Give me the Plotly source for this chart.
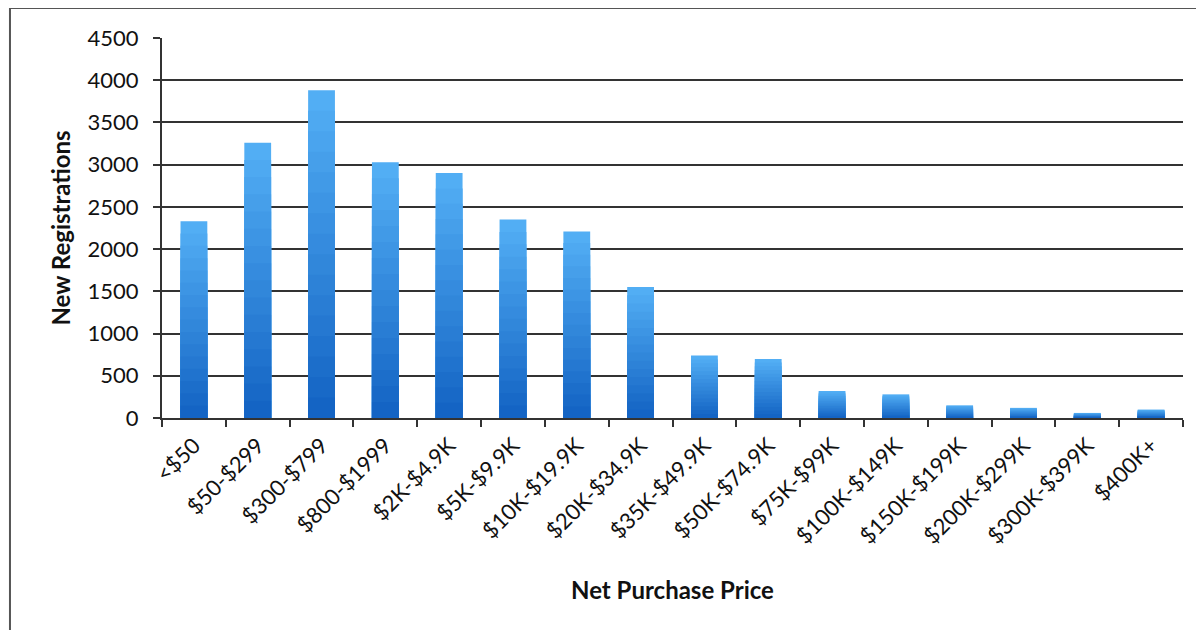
import plotly.graph_objects as go

categories = ["<$50", "$50-$299", "$300-$799", "$800-$1999", "$2K-$4.9K", "$5K-$9.9K",
              "$10K-$19.9K", "$20K-$34.9K", "$35K-$49.9K", "$50K-$74.9K", "$75K-$99K",
              "$100K-$149K", "$150K-$199K", "$200K-$299K", "$300K-$399K", "$400K+"]
registrations = [2330, 3260, 3880, 3030, 2900, 2350, 2210, 1550, 740, 700, 320, 280, 150, 120, 60, 100]
y_ticks = [0, 500, 1000, 1500, 2000, 2500, 3000, 3500, 4000, 4500]

top_rgb = (82, 174, 244)
bot_rgb = (20, 100, 196)
N = 16

fig = go.Figure()
for i in range(N):
    frac = (N - i) / N
    t = i / (N - 1)
    c = tuple(int(round(top_rgb[k] + (bot_rgb[k] - top_rgb[k]) * t)) for k in range(3))
    fig.add_trace(go.Bar(
        x=categories,
        y=[v * frac for v in registrations],
        marker=dict(color="rgb(%d,%d,%d)" % c, line=dict(width=0)),
        showlegend=False,
        hoverinfo="skip" if i else "x+y",
    ))

font_family = "Lato, 'Open Sans', sans-serif"
fig.update_layout(
    width=1204, height=630,
    barmode="overlay",
    bargap=0.58,
    paper_bgcolor="white",
    plot_bgcolor="white",
    margin=dict(l=154, r=29, t=30, b=220, autoexpand=False),
    font=dict(family=font_family, color="#111"),
    xaxis=dict(
        type="category",
        automargin=False,
        tickangle=-45,
        tickfont=dict(size=22),
        ticklabelstandoff=4,
        tickson="boundaries",
        ticks="outside", ticklen=7, tickwidth=2, tickcolor="#333",
        showline=True, linecolor="#333", linewidth=2,
        showgrid=False,
        title=dict(text="<b>Net Purchase Price</b>", font=dict(size=24), standoff=34),
    ),
    yaxis=dict(
        range=[0, 4500],
        automargin=False,
        tickvals=y_ticks,
        tickfont=dict(size=22),
        ticklabelstandoff=10,
        ticks="outside", ticklen=7, tickwidth=2, tickcolor="#333",
        showline=True, linecolor="#333", linewidth=2,
        showgrid=True, gridcolor="#333", gridwidth=2,
        zeroline=False,
        title=dict(text="<b>New Registrations</b>", font=dict(size=24), standoff=10),
    ),
    shapes=[
        dict(type="line", xref="paper", yref="paper", x0=-0.1489, x1=1.03, y0=1.079, y1=1.079,
             line=dict(color="#555", width=2)),
        dict(type="line", xref="paper", yref="paper", x0=-0.1489, x1=-0.1489, y0=1.079, y1=-0.56,
             line=dict(color="#555", width=2)),
    ],
)

fig.write_html("out.html")
